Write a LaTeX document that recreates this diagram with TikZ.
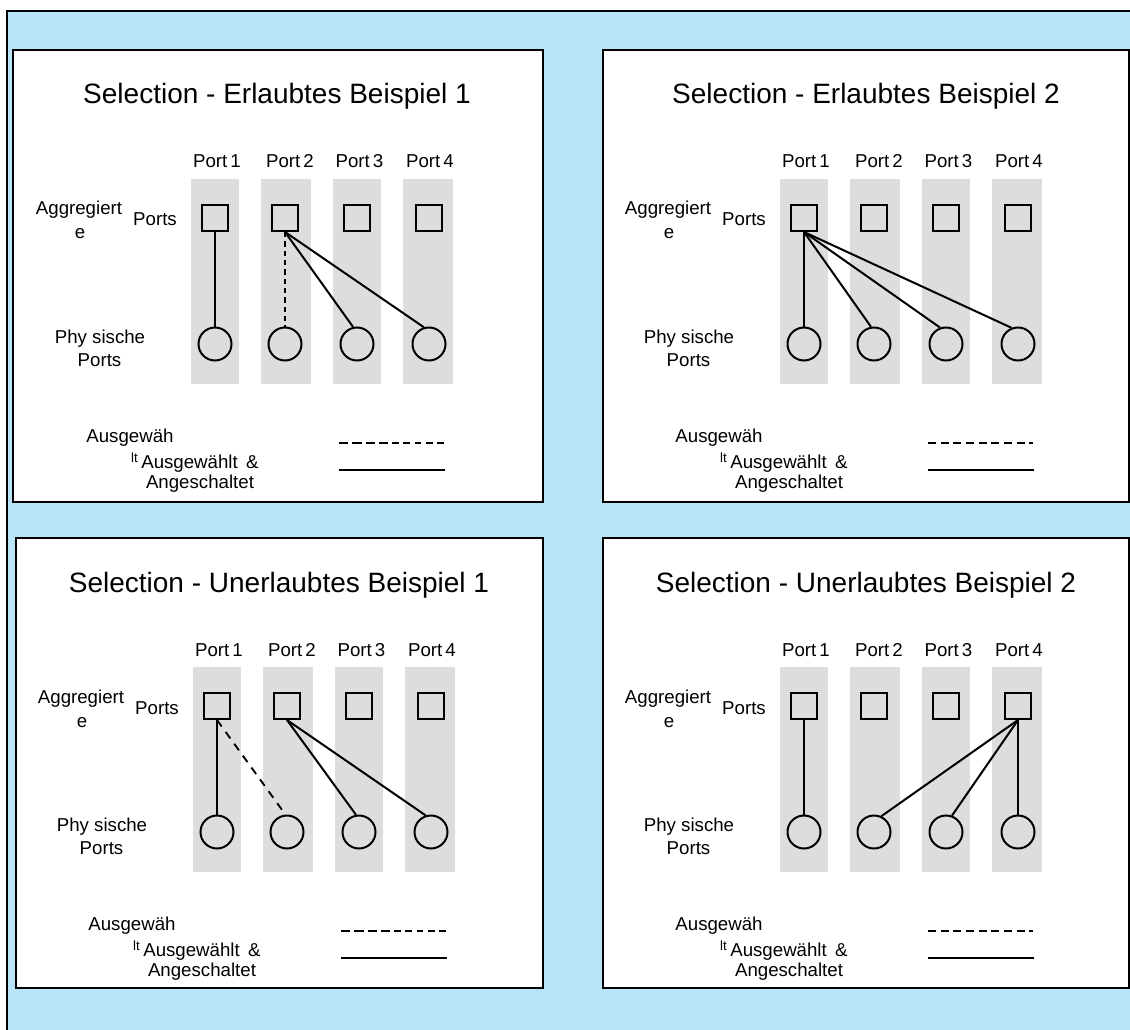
\documentclass[tikz,border=0pt]{standalone}
\usepackage{fontspec}
\setmainfont{Liberation Sans}
\definecolor{bgblue}{RGB}{185,228,248}
\definecolor{colgray}{RGB}{221,221,221}
\tikzset{
  panelbox/.style={draw=black, fill=white, line width=1.5pt},
  aggport/.style={draw=black, line width=1.5pt, minimum size=19.5pt, inner sep=0pt},
  physport/.style={draw=black, circle, line width=1.5pt, minimum size=24.75pt, inner sep=0pt},
  link/.style={line width=1.5pt},
  dlink/.style={line width=1.5pt, dash pattern=on 4pt off 3pt},
  dlinklong/.style={line width=1.4pt, dash pattern=on 6pt off 5pt},
  legsolid/.style={line width=1.4pt},
  legdashA/.style={line width=1.8pt, dash pattern=on 7pt off 3pt},
  legdashB/.style={line width=1.1pt, dash pattern=on 5pt off 3.5pt},
  legdashU/.style={line width=1.5pt, dash pattern=on 6pt off 3.5pt},
  titletext/.style={font=\fontsize{21}{25}\selectfont, anchor=base, inner sep=0pt},
  lbl/.style={font=\fontsize{14}{16}\selectfont, anchor=base, inner sep=0pt},
  smalllbl/.style={font=\fontsize{10}{12}\selectfont, anchor=base, inner sep=0pt},
}
\newcommand{\panelcommon}[2]{%
  \fill[colgray] (191,179) rectangle (239,384);
  \fill[colgray] (261,179) rectangle (311,384);
  \fill[colgray] (333,179) rectangle (381,384);
  \fill[colgray] (403,179) rectangle (453,384);
  \node[titletext] (#1-title) at (277,104) {#2};
  \node[lbl] (#1-p1) at (217,168) {Port\,1};
  \node[lbl] (#1-p2) at (290,168) {Port\,2};
  \node[lbl] (#1-p3) at (359.5,168) {Port\,3};
  \node[lbl] (#1-p4) at (430,168) {Port\,4};
  \node[aggport] (#1-s1) at (215,218) {};
  \node[aggport] (#1-s2) at (285,218) {};
  \node[aggport] (#1-s3) at (357,218) {};
  \node[aggport] (#1-s4) at (429,218) {};
  \node[physport] (#1-c1) at (215,344) {};
  \node[physport] (#1-c2) at (285,344) {};
  \node[physport] (#1-c3) at (357,344) {};
  \node[physport] (#1-c4) at (429,344) {};
  \node[lbl] (#1-agg) at (79,215) {Aggregiert};
  \node[lbl] (#1-agge) at (80,239) {e};
  \node[lbl] (#1-aggp) at (155,226) {Ports};
  \node[lbl] (#1-phy) at (100,343) {Phy sische};
  \node[lbl] (#1-phyp) at (99.5,366) {Ports};
  \node[lbl] (#1-sel) at (130,442) {Ausgewäh};
  \node[smalllbl] (#1-lt) at (134.5,462) {lt};
  \node[lbl] (#1-on1) at (200,468) {Ausgewählt\hspace{0.45em}\&};
  \node[lbl] (#1-on2) at (200,488) {Angeschaltet};
  \coordinate (#1-la) at (339,443);
  \coordinate (#1-lm) at (392,443);
  \coordinate (#1-lb) at (444,443);
  \coordinate (#1-ma) at (339,470);
  \coordinate (#1-mb) at (445,470);
  \draw[legsolid] (#1-ma) -- (#1-mb);
}
\begin{document}
\begin{tikzpicture}[x=0.75pt,y=-0.75pt]
\useasboundingbox (0,0) rectangle (1130,1030);
\fill[bgblue] (7,11) rectangle (1130,1030);
\draw[line width=1.5pt] (7,1030) -- (7,11) -- (1130,11);
\draw[panelbox] (13,50) rectangle (543,502);
\draw[panelbox] (603,50) rectangle (1129,502);
\draw[panelbox] (16,538) rectangle (543,988);
\draw[panelbox] (603,538) rectangle (1129,988);
% Panel 1
\begin{scope}
  \panelcommon{A}{Selection - Erlaubtes Beispiel 1}
  \draw[link] (A-s1.south) -- (A-c1.north);
  \draw[dlink] (A-s2.south) -- (A-c2.north);
  \draw[link] (A-s2.south) -- (A-c3.103);
  \draw[link] (A-s2.south) -- (A-c4.107);
  \draw[legdashA] (A-la) -- (A-lm);
  \draw[legdashB] (A-lm) -- (A-lb);
\end{scope}
% Panel 2
\begin{scope}[shift={(589,0)}]
  \panelcommon{B}{Selection - Erlaubtes Beispiel 2}
  \draw[link] (B-s1.south) -- (B-c1.north);
  \draw[link] (B-s1.south) -- (B-c2.100);
  \draw[link] (B-s1.south) -- (B-c3.110);
  \draw[link] (B-s1.south) -- (B-c4.112);
  \draw[legdashU] (B-la) -- (B-lb);
\end{scope}
% Panel 3
\begin{scope}[shift={(2,488)}]
  \panelcommon{C}{Selection - Unerlaubtes Beispiel 1}
  \draw[link] (C-s1.south) -- (C-c1.north);
  \draw[dlinklong] (C-s1.south) -- (C-c2.95);
  \draw[link] (C-s2.south) -- (C-c3.100);
  \draw[link] (C-s2.south) -- (C-c4.108);
  \draw[legdashA] (C-la) -- (C-lm);
  \draw[legdashB] (C-lm) -- (C-lb);
\end{scope}
% Panel 4
\begin{scope}[shift={(589,488)}]
  \panelcommon{D}{Selection - Unerlaubtes Beispiel 2}
  \draw[link] (D-s1.south) -- (D-c1.north);
  \draw[link] (D-s4.south) -- (D-c2.65);
  \draw[link] (D-s4.south) -- (D-c3.70);
  \draw[link] (D-s4.south) -- (D-c4.north);
  \draw[legdashU] (D-la) -- (D-lb);
\end{scope}
\end{tikzpicture}
\end{document}
